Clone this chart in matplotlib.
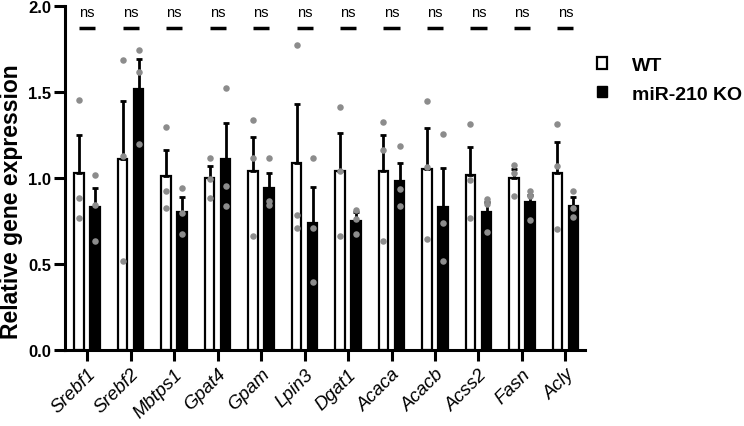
import matplotlib
matplotlib.use('Agg')
import matplotlib.pyplot as plt
from matplotlib.patches import Patch
import numpy as np

plt.rcParams['font.family'] = ['Liberation Sans', 'DejaVu Sans']

# Genes
genes = ['Srebf1', 'Srebf2', 'Mbtps1', 'Gpat4', 'Gpam', 'Lpin3',
         'Dgat1', 'Acaca', 'Acacb', 'Acss2', 'Fasn', 'Acly']

# Mean values (bar height)
wt_mean = [1.03, 1.11, 1.01, 1.00, 1.04, 1.09, 1.04, 1.04, 1.05, 1.02, 1.00, 1.03]
ko_mean = [0.83, 1.52, 0.80, 1.11, 0.94, 0.74, 0.75, 0.98, 0.83, 0.80, 0.86, 0.84]

# Top of the error bar (mean + SEM)
wt_err_top = [1.25, 1.45, 1.16, 1.07, 1.24, 1.43, 1.26, 1.25, 1.29, 1.18, 1.05, 1.21]
ko_err_top = [0.94, 1.69, 0.89, 1.32, 1.03, 0.95, 0.80, 1.09, 1.06, 0.86, 0.90, 0.89]

# Individual replicates
wt_points = [
    [1.455, 0.884, 0.767],
    [1.686, 1.126, 0.516],
    [1.295, 0.926, 0.826],
    [1.114, 0.994, 0.884],
    [1.335, 1.114, 0.665],
    [1.775, 0.785, 0.707],
    [1.415, 1.043, 0.665],
    [1.326, 1.165, 0.635],
    [1.446, 1.066, 0.645],
    [1.316, 0.986, 0.766],
    [1.077, 1.029, 0.894],
    [1.316, 1.068, 0.703],
]
ko_points = [
    [1.017, 0.845, 0.635],
    [1.746, 1.618, 1.196],
    [0.944, 0.795, 0.674],
    [1.525, 0.955, 0.835],
    [1.114, 0.866, 0.843],
    [1.114, 0.707, 0.395],
    [0.814, 0.762, 0.674],
    [1.186, 0.936, 0.835],
    [1.256, 0.737, 0.516],
    [0.878, 0.849, 0.684],
    [0.926, 0.897, 0.756],
    [0.926, 0.827, 0.771],
]

sig_labels = ['ns'] * len(genes)

x = np.arange(len(genes))
off = 0.185
bw = 0.22
lw_axis = 2.2

fig = plt.figure(figsize=(7.44, 4.27), dpi=100)
ax = fig.add_axes([65 / 744, 1 - 351 / 427, 520 / 744, 344 / 427])

# Bars
ax.bar(x - off, wt_mean, width=bw, color='white', edgecolor='black', linewidth=1.6, zorder=2)
ax.bar(x + off, ko_mean, width=bw, color='black', edgecolor='black', linewidth=1.6, zorder=2)

# Upper error bars only
wt_up = np.array(wt_err_top) - np.array(wt_mean)
ko_up = np.array(ko_err_top) - np.array(ko_mean)
ax.errorbar(x - off, wt_mean, yerr=[np.zeros(len(x)), wt_up], fmt='none',
            ecolor='black', elinewidth=2, capsize=2.5, capthick=2, zorder=3)
ax.errorbar(x + off, ko_mean, yerr=[np.zeros(len(x)), ko_up], fmt='none',
            ecolor='black', elinewidth=2, capsize=2.5, capthick=2, zorder=3)

# Replicate dots
for i in range(len(genes)):
    ax.scatter([x[i] - off] * len(wt_points[i]), wt_points[i], s=22,
               color='#8c8c8c', linewidths=0, zorder=4)
    ax.scatter([x[i] + off] * len(ko_points[i]), ko_points[i], s=22,
               color='#8c8c8c', linewidths=0, zorder=4)

# Significance annotations
for i, lab in enumerate(sig_labels):
    ax.plot([x[i] - off, x[i] + off], [1.87, 1.87], color='black', lw=2.5,
            solid_capstyle='butt', zorder=3)
    ax.text(x[i], 1.925, lab, ha='center', va='bottom', fontsize=10.5)

ax.set_xlim(-0.51, 11.45)
ax.set_ylim(0, 2.0)
ax.set_yticks([0, 0.5, 1.0, 1.5, 2.0])
ax.set_yticklabels(['%.1f' % v for v in [0, 0.5, 1.0, 1.5, 2.0]],
                   fontsize=12, fontweight='bold')
ax.set_xticks(x)
ax.set_xticklabels(genes, rotation=45, ha='right', rotation_mode='anchor',
                   fontsize=13.5, fontstyle='italic')

for s in ['top', 'right']:
    ax.spines[s].set_visible(False)
for s in ['left', 'bottom']:
    ax.spines[s].set_linewidth(lw_axis)
ax.tick_params(axis='y', length=8, width=lw_axis, direction='out', pad=2)
ax.tick_params(axis='x', length=8, width=lw_axis, direction='out', pad=3)

ax.set_ylabel('Relative gene expression', fontsize=16.5, fontweight='bold')
ax.yaxis.set_label_coords(-0.081, 0.433)

handles = [Patch(facecolor='white', edgecolor='black', linewidth=1.6),
           Patch(facecolor='black', edgecolor='black')]
fig.legend(handles, ['WT', 'miR-210 KO'], loc='upper left',
           bbox_to_anchor=(596.7 / 744, 1 - 58 / 427), frameon=False,
           prop={'size': 14, 'weight': 'bold'}, handlelength=0.52,
           handleheight=0.52, handletextpad=1.3, labelspacing=0.6,
           borderpad=0, borderaxespad=0)

fig.savefig('out.png', dpi=100)
